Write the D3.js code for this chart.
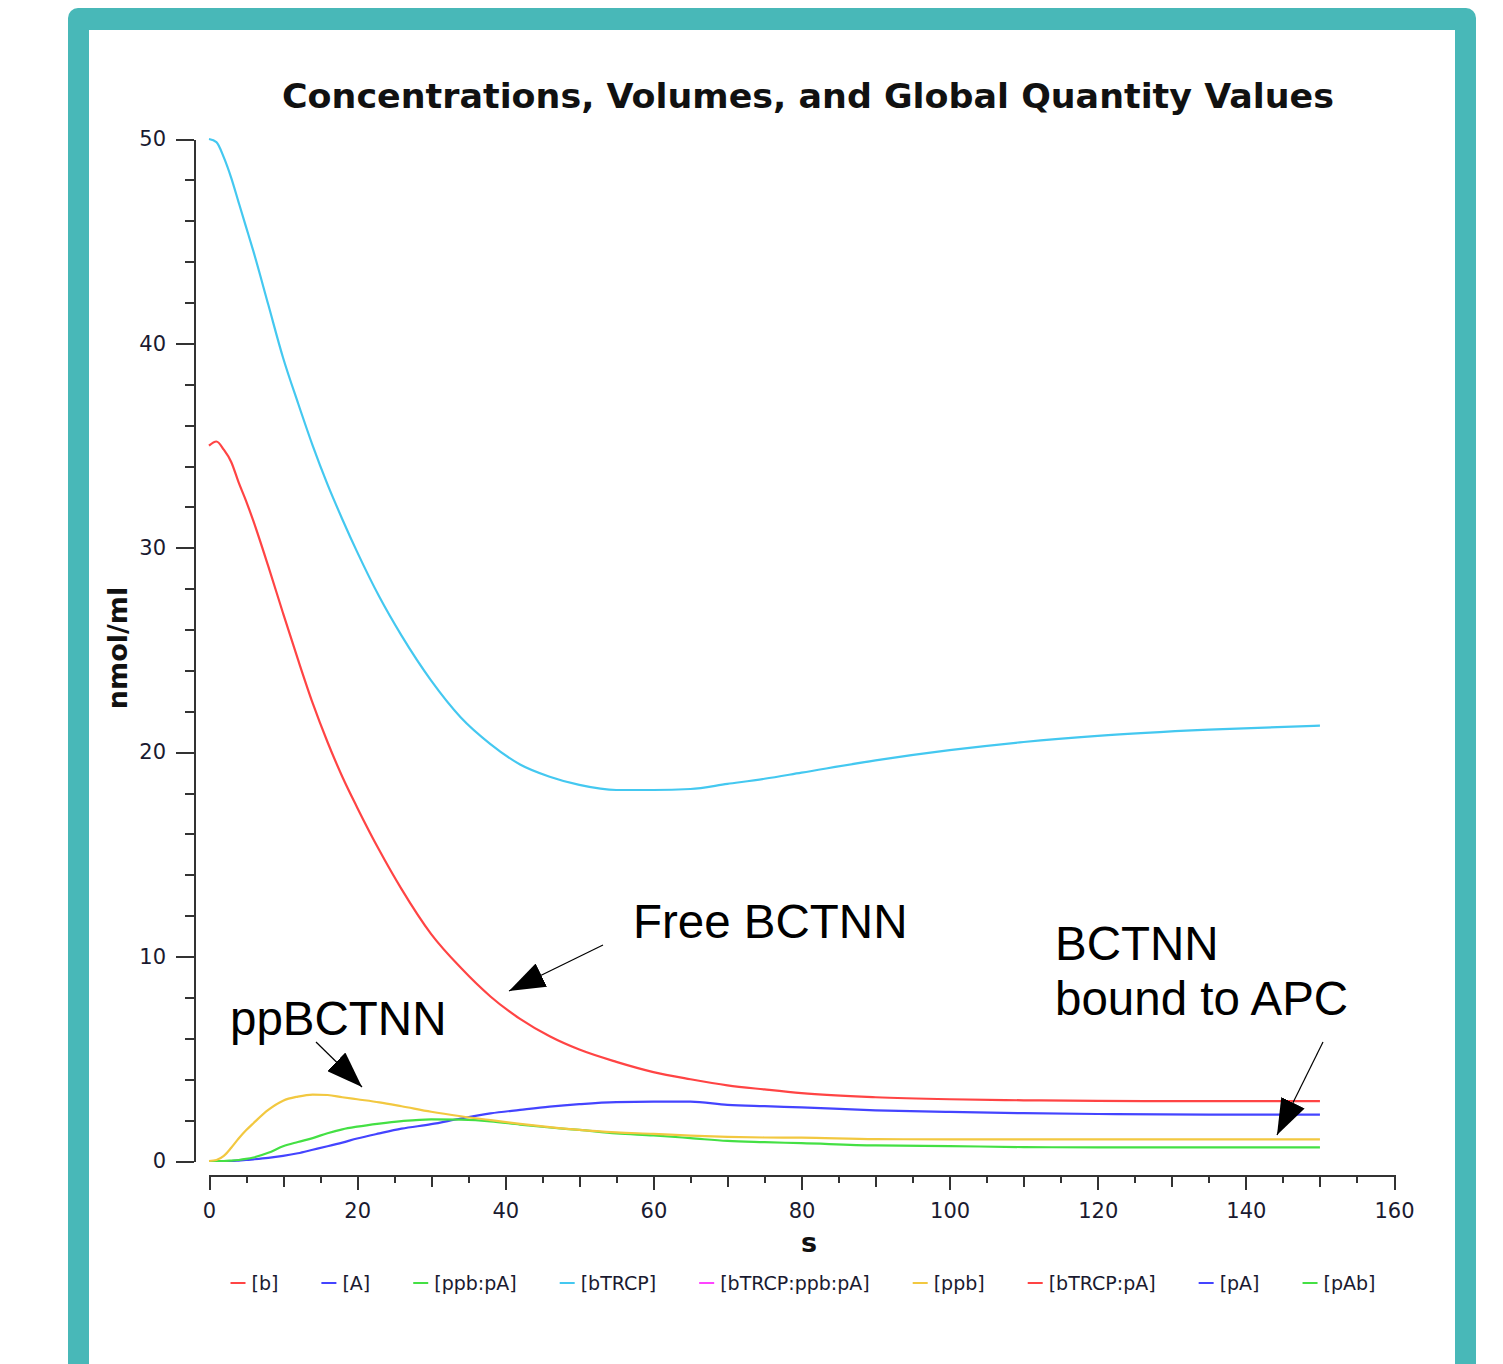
<!DOCTYPE html>
<html>
<head>
<meta charset="utf-8">
<script src="https://cdn.jsdelivr.net/npm/d3@7/dist/d3.min.js"></script>
<style>
html, body { margin: 0; padding: 0; background: #fff; }
svg { display: block; }
</style>
</head>
<body>
<svg id="chart" width="1503" height="1364"></svg>
<script>
// time points (s)
var times = [0, 1, 2, 3, 4, 5, 6, 8, 10, 12, 14, 16, 18, 20, 23, 26, 30, 34, 38, 42, 46, 50,
	55, 60, 65, 70, 75, 80, 90, 100, 110, 120, 135, 150];

// nmol/ml values for each visible curve, one per time point
var bValues = [35.0, 35.2, 34.8, 34.2, 33.2, 32.3, 31.3, 29.1, 26.8, 24.55, 22.4, 20.5, 18.8, 17.3,
	15.2, 13.3, 11.1, 9.45, 8.05, 6.95, 6.1, 5.45, 4.85, 4.35, 4.0, 3.7, 3.5, 3.32, 3.12, 3.02, 2.97,
	2.94, 2.93, 2.93];
var aValues = [0, 0, 0, 0, 0.02, 0.05, 0.08, 0.15, 0.25, 0.38, 0.55, 0.72, 0.9, 1.1, 1.35, 1.58,
	1.8, 2.08, 2.33, 2.5, 2.66, 2.78, 2.88, 2.9, 2.9, 2.75, 2.68, 2.62, 2.48, 2.4, 2.34, 2.3,
	2.27, 2.27];
var ppbPAValues = [0, 0, 0, 0.02, 0.05, 0.1, 0.17, 0.4, 0.72, 0.93, 1.12, 1.36, 1.55, 1.68, 1.83,
	1.95, 2.04, 2.02, 1.94, 1.78, 1.64, 1.52, 1.35, 1.25, 1.12, 0.98, 0.92, 0.87, 0.76, 0.73,
	0.68, 0.67, 0.67, 0.67];
var bTRCPValues = [50.0, 49.85, 49.1, 48.1, 46.9, 45.7, 44.5, 41.9, 39.3, 37.1, 35.0, 33.1, 31.4,
	29.8, 27.6, 25.7, 23.5, 21.7, 20.4, 19.4, 18.8, 18.4, 18.15, 18.15, 18.2, 18.45, 18.7, 19.0,
	19.6, 20.1, 20.5, 20.8, 21.1, 21.3];
var ppbValues = [0, 0.05, 0.25, 0.65, 1.1, 1.5, 1.85, 2.5, 2.95, 3.15, 3.25, 3.23, 3.12, 3.02,
	2.87, 2.68, 2.41, 2.19, 2.0, 1.82, 1.66, 1.52, 1.4, 1.33, 1.24, 1.18, 1.15, 1.14, 1.07, 1.06,
	1.06, 1.06, 1.06, 1.06];

var seriesNames = ["[b]", "[A]", "[ppb:pA]", "[bTRCP]", "[bTRCP:ppb:pA]", "[ppb]", "[bTRCP:pA]", "[pA]", "[pAb]"];
var seriesColors = ["#ff4444", "#4444ff", "#44e044", "#44c8f0", "#ff44ff", "#f2c840", "#ff4444", "#4444ff", "#44e044"];
// the remaining entries sit under other curves and only show up in the legend
var seriesValues = [bValues, aValues, ppbPAValues, bTRCPValues, null, ppbValues, null, null, null];

var yMajorTicks = [0, 10, 20, 30, 40, 50];
var xMajorTicks = [0, 20, 40, 60, 80, 100, 120, 140, 160];

var annotations = [
	{ lines: ["Free BCTNN"], x: 633, y: 938, from: [603, 945], to: [509, 991] },
	{ lines: ["BCTNN", "bound to APC"], x: 1055, y: 960, from: [1323, 1042], to: [1277, 1135] },
	{ lines: ["ppBCTNN"], x: 230, y: 1035, from: [316, 1042], to: [362, 1087] }
];

var svg = d3.select("#chart");
var tickFont = "'DejaVu Sans', Verdana, sans-serif";
var axisColor = "#333";

// frame
svg.append("rect")
	.attr("x", 68).attr("y", 8)
	.attr("width", 1408).attr("height", 1400)
	.attr("rx", 10)
	.attr("fill", "#48b8b8");
svg.append("rect")
	.attr("x", 89).attr("y", 30)
	.attr("width", 1366).attr("height", 1400)
	.attr("fill", "#fff");

var x = d3.scaleLinear().domain([0, 160]).range([209, 1394]);
var y = d3.scaleLinear().domain([0, 50]).range([1161, 139]);

svg.append("text")
	.attr("x", 808).attr("y", 108)
	.attr("text-anchor", "middle")
	.attr("font-family", tickFont)
	.attr("font-weight", "bold")
	.attr("font-size", 33)
	.attr("textLength", 1052)
	.attr("lengthAdjust", "spacingAndGlyphs")
	.attr("fill", "#111")
	.text("Concentrations, Volumes, and Global Quantity Values");

var styleAxis = function(g) {
	g.selectAll("path, line")
		.attr("stroke", axisColor)
		.attr("stroke-width", 2)
		.attr("shape-rendering", "crispEdges");
	g.selectAll("text")
		.attr("font-family", tickFont)
		.attr("font-size", 21)
		.attr("fill", "#1a1a30");
};

// y axis: minor ticks every 2, labelled every 10
svg.append("g")
	.attr("transform", "translate(194,0)")
	.call(d3.axisLeft(y).tickValues(d3.range(0, 51, 2)).tickSize(9).tickSizeOuter(0).tickFormat(""))
	.call(styleAxis);
svg.append("g")
	.attr("transform", "translate(194,0)")
	.call(d3.axisLeft(y).tickValues(yMajorTicks).tickSize(18).tickSizeOuter(0).tickPadding(10))
	.call(styleAxis)
	.call(function(g) { g.select(".domain").remove(); });

// x axis: ticks every 5, longer every 10, labelled every 20
svg.append("g")
	.attr("transform", "translate(0,1175)")
	.call(d3.axisBottom(x).tickValues(d3.range(0, 161, 5)).tickSize(8).tickSizeOuter(0).tickFormat(""))
	.call(styleAxis);
svg.append("g")
	.attr("transform", "translate(0,1175)")
	.call(d3.axisBottom(x).tickValues(d3.range(10, 161, 20)).tickSize(12).tickSizeOuter(0).tickFormat(""))
	.call(styleAxis)
	.call(function(g) { g.select(".domain").remove(); });
svg.append("g")
	.attr("transform", "translate(0,1175)")
	.call(d3.axisBottom(x).tickValues(xMajorTicks).tickSize(15).tickSizeOuter(0).tickPadding(13))
	.call(styleAxis)
	.call(function(g) { g.select(".domain").remove(); });

svg.append("text")
	.attr("transform", "translate(127,648) rotate(-90)")
	.attr("text-anchor", "middle")
	.attr("font-family", tickFont)
	.attr("font-weight", "bold")
	.attr("font-size", 27)
	.attr("fill", "#111")
	.text("nmol/ml");

svg.append("text")
	.attr("x", 809).attr("y", 1252)
	.attr("text-anchor", "middle")
	.attr("font-family", tickFont)
	.attr("font-weight", "bold")
	.attr("font-size", 27)
	.attr("fill", "#111")
	.text("s");

// curves
var line = d3.line()
	.x(function(d) { return x(d[0]); })
	.y(function(d) { return y(d[1]); })
	.curve(d3.curveMonotoneX);

var curves = svg.append("g").attr("class", "curves");
seriesNames.forEach(function(name, i) {
	if (!seriesValues[i]) {
		return;
	}
	curves.append("path")
		.datum(d3.zip(times, seriesValues[i]))
		.attr("fill", "none")
		.attr("stroke", seriesColors[i])
		.attr("stroke-width", 2.2)
		.attr("d", line);
});

// legend, laid out left to right and centred under the plot
var legend = svg.append("g").attr("class", "legend");
var legendGap = 43;
var cursor = 0;
seriesNames.forEach(function(name, i) {
	var g = legend.append("g");
	g.append("line")
		.attr("x1", 0).attr("x2", 15)
		.attr("y1", 0).attr("y2", 0)
		.attr("stroke", seriesColors[i])
		.attr("stroke-width", 2);
	var t = g.append("text")
		.attr("x", 21).attr("y", 7)
		.attr("font-family", tickFont)
		.attr("font-size", 19)
		.attr("fill", "#1a1a30")
		.text(name);
	var w = 21 + t.node().getComputedTextLength();
	g.attr("transform", "translate(" + cursor + ",0)");
	cursor += w + legendGap;
});
var legendWidth = cursor - legendGap;
legend.attr("transform", "translate(" + (803 - legendWidth / 2) + ",1283)");

// hand drawn annotations
svg.append("defs").append("marker")
	.attr("id", "head")
	.attr("viewBox", "0 0 36 26")
	.attr("refX", 36).attr("refY", 13)
	.attr("markerWidth", 36).attr("markerHeight", 26)
	.attr("markerUnits", "userSpaceOnUse")
	.attr("orient", "auto")
	.append("path")
	.attr("d", "M0,0L36,13L0,26Z")
	.attr("fill", "#000");

annotations.forEach(function(a) {
	var t = svg.append("text")
		.attr("x", a.x).attr("y", a.y)
		.attr("font-family", "'Liberation Sans', Arial, sans-serif")
		.attr("font-size", 47.5)
		.attr("fill", "#000");
	a.lines.forEach(function(s, i) {
		t.append("tspan").attr("x", a.x).attr("dy", i === 0 ? 0 : 55).text(s);
	});
	svg.append("line")
		.attr("x1", a.from[0]).attr("y1", a.from[1])
		.attr("x2", a.to[0]).attr("y2", a.to[1])
		.attr("stroke", "#000")
		.attr("stroke-width", 1.2)
		.attr("marker-end", "url(#head)");
});
</script>
</body>
</html>
